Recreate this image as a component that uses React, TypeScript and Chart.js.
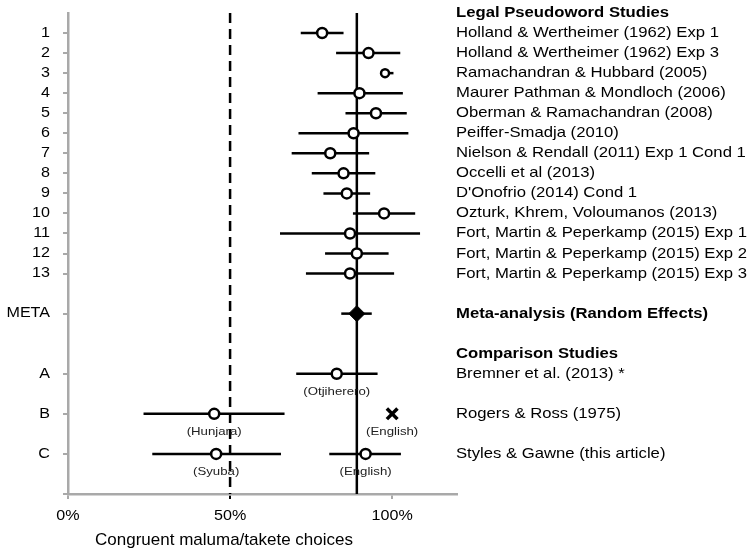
import React, { useEffect, useRef } from "react";
import { Chart, registerables } from "chart.js";

Chart.register(...registerables);

// ---------- DATA ----------
const studyRows = [1, 2, 3, 4, 5, 6, 7, 8, 9, 10, 11, 12, 13];
const studyNames = [
  "Holland & Wertheimer (1962) Exp 1",
  "Holland & Wertheimer (1962) Exp 3",
  "Ramachandran & Hubbard (2005)",
  "Maurer Pathman & Mondloch (2006)",
  "Oberman & Ramachandran (2008)",
  "Peiffer-Smadja (2010)",
  "Nielson & Rendall (2011) Exp 1 Cond 1",
  "Occelli et al (2013)",
  "D'Onofrio (2014) Cond 1",
  "Ozturk, Khrem, Voloumanos (2013)",
  "Fort, Martin & Peperkamp (2015) Exp 1",
  "Fort, Martin & Peperkamp (2015) Exp 2",
  "Fort, Martin & Peperkamp (2015) Exp 3",
];
const studyEstimates = [0.784, 0.927, 0.978, 0.899, 0.95, 0.881, 0.809, 0.85, 0.86, 0.975, 0.87, 0.891, 0.87];
const studyLower = [0.718, 0.827, 0.965, 0.77, 0.856, 0.711, 0.69, 0.752, 0.788, 0.879, 0.654, 0.793, 0.734];
const studyUpper = [0.85, 1.025, 1.004, 1.033, 1.045, 1.05, 0.929, 0.948, 0.932, 1.071, 1.086, 0.989, 1.006];

const metaRow = 15;
const metaName = "Meta-analysis (Random Effects)";
const metaEstimate = 0.891;
const metaLower = 0.843;
const metaUpper = 0.937;

const chanceLevel = 0.5;

const headingRows = [0, 17];
const headingNames = ["Legal Pseudoword Studies", "Comparison Studies"];

const comparisonRows = [18, 20, 22];
const comparisonNames = ["Bremner et al. (2013) *", "Rogers & Ross (1975)", "Styles & Gawne (this article)"];

const compCircleRows = [18, 20, 22, 22];
const compCircleLanguages = ["(Otjiherero)", "(Hunjara)", "(Syuba)", "(English)"];
const compCircleEstimates = [0.829, 0.451, 0.457, 0.918];
const compCircleLower = [0.704, 0.233, 0.26, 0.806];
const compCircleUpper = [0.955, 0.668, 0.657, 1.027];

const compCrossRows = [20];
const compCrossLanguages = ["(English)"];
const compCrossEstimates = [1.0];

const yTickValues = [1, 2, 3, 4, 5, 6, 7, 8, 9, 10, 11, 12, 13, 15, 18, 20, 22];
const yTickLabels = ["1", "2", "3", "4", "5", "6", "7", "8", "9", "10", "11", "12", "13", "META", "A", "B", "C"];
const xTickValues = [0, 0.5, 1];
const xTickLabels = ["0%", "50%", "100%"];
const xAxisTitle = "Congruent maluma/takete choices";

const X_MIN = 0;
const X_MAX = 1.2;
const Y_MIN = 0;
const Y_MAX = 24;

// ---------- STYLE ----------
const FONT = '"Liberation Sans", Arial, Helvetica, sans-serif';
const AXIS_GREY = "#a9a9a9";
const TEXT_STRETCH = 1.15;

function drawText(
  ctx: CanvasRenderingContext2D,
  text: string,
  x: number,
  y: number,
  size: number,
  weight: string,
  align: CanvasTextAlign,
  stretch: number,
  color = "#000"
) {
  ctx.save();
  ctx.translate(x, y);
  ctx.scale(stretch, 1);
  ctx.font = `${weight} ${size}px ${FONT}`;
  ctx.fillStyle = color;
  ctx.textAlign = align;
  ctx.textBaseline = "middle";
  ctx.fillText(text, 0, 0);
  ctx.restore();
}

const textPlugin = {
  id: "forestText",
  afterDraw(chart: any) {
    const { ctx, chartArea } = chart;
    const xs = chart.scales.x;
    const ys = chart.scales.y;
    // y tick labels
    yTickValues.forEach((v, i) => {
      drawText(ctx, yTickLabels[i], chartArea.left - 18, ys.getPixelForValue(v), 14, "normal", "right", TEXT_STRETCH);
    });
    // x tick labels
    xTickValues.forEach((v, i) => {
      drawText(ctx, xTickLabels[i], xs.getPixelForValue(v), chartArea.bottom + 22, 14, "normal", "center", TEXT_STRETCH);
    });
    // x title
    drawText(ctx, xAxisTitle, 224, chartArea.bottom + 46, 17, "normal", "center", 1.0);
    // right-hand labels
    const rx = chartArea.right - 1;
    headingRows.forEach((r, i) => drawText(ctx, headingNames[i], rx, ys.getPixelForValue(r), 14.5, "bold", "left", TEXT_STRETCH));
    studyRows.forEach((r, i) => drawText(ctx, studyNames[i], rx, ys.getPixelForValue(r), 14.5, "normal", "left", TEXT_STRETCH));
    drawText(ctx, metaName, rx, ys.getPixelForValue(metaRow), 14.5, "bold", "left", TEXT_STRETCH);
    comparisonRows.forEach((r, i) => drawText(ctx, comparisonNames[i], rx, ys.getPixelForValue(r), 14.5, "normal", "left", TEXT_STRETCH));
    // language labels under the comparison markers
    compCircleRows.forEach((r, i) =>
      drawText(ctx, compCircleLanguages[i], xs.getPixelForValue(compCircleEstimates[i]), ys.getPixelForValue(r) + 18, 11.5, "normal", "center", TEXT_STRETCH, "#222")
    );
    compCrossRows.forEach((r, i) =>
      drawText(ctx, compCrossLanguages[i], xs.getPixelForValue(compCrossEstimates[i]), ys.getPixelForValue(r) + 18, 11.5, "normal", "center", TEXT_STRETCH, "#222")
    );
  },
};

export default function App() {
  const canvasRef = useRef<HTMLCanvasElement | null>(null);

  useEffect(() => {
    if (!canvasRef.current) return;

    const intervals = [
      ...studyRows.map((r, i) => ({ y: r, lo: studyLower[i], hi: studyUpper[i] })),
      { y: metaRow, lo: metaLower, hi: metaUpper },
      ...compCircleRows.map((r, i) => ({ y: r, lo: compCircleLower[i], hi: compCircleUpper[i] })),
    ];

    const lineBase = {
      showLine: true,
      borderColor: "#000",
      borderWidth: 2.5,
      pointRadius: 0,
      pointHoverRadius: 0,
      order: 2,
    };

    const ciDatasets = intervals.map((iv) => ({
      ...lineBase,
      data: [
        { x: iv.lo, y: iv.y },
        { x: iv.hi, y: iv.y },
      ],
    }));

    const refDatasets = [
      {
        ...lineBase,
        borderDash: [10, 6],
        data: [
          { x: chanceLevel, y: Y_MIN },
          { x: chanceLevel, y: Y_MAX },
        ],
      },
      {
        ...lineBase,
        data: [
          { x: metaEstimate, y: Y_MIN },
          { x: metaEstimate, y: Y_MAX },
        ],
      },
    ];

    const markerDatasets = [
      {
        data: studyRows.map((r, i) => ({ x: studyEstimates[i], y: r })),
        pointStyle: "circle",
        pointRadius: (c: any) => (c.dataIndex === 2 ? 4 : 5),
        pointBorderWidth: 2.5,
        pointBackgroundColor: "#fff",
        pointBorderColor: "#000",
        order: 0,
      },
      {
        data: compCircleRows.map((r, i) => ({ x: compCircleEstimates[i], y: r })),
        pointStyle: "circle",
        pointRadius: 5,
        pointBorderWidth: 2.5,
        pointBackgroundColor: "#fff",
        pointBorderColor: "#000",
        order: 0,
      },
      {
        data: [{ x: metaEstimate, y: metaRow }],
        pointStyle: "rectRot",
        pointRadius: 8,
        pointBorderWidth: 1,
        pointBackgroundColor: "#000",
        pointBorderColor: "#000",
        order: 0,
      },
      {
        data: compCrossRows.map((r, i) => ({ x: compCrossEstimates[i], y: r })),
        pointStyle: "crossRot",
        pointRadius: 7.5,
        pointBorderWidth: 3.5,
        pointBackgroundColor: "#000",
        pointBorderColor: "#000",
        order: 0,
      },
    ];

    const chart = new Chart(canvasRef.current, {
      type: "scatter",
      data: { datasets: [...markerDatasets, ...refDatasets, ...ciDatasets] as any },
      options: {
        animation: false,
        responsive: false,
        events: [],
        layout: { padding: { left: 0, right: 293, top: 13, bottom: 0 } },
        plugins: { legend: { display: false }, tooltip: { enabled: false }, title: { display: false } },
        scales: {
          x: {
            type: "linear",
            min: X_MIN,
            max: X_MAX,
            afterBuildTicks: (scale: any) => {
              scale.ticks = xTickValues.map((v) => ({ value: v }));
            },
            afterFit: (scale: any) => {
              scale.height = 56;
            },
            ticks: { display: false },
            grid: {
              display: true,
              drawOnChartArea: false,
              drawTicks: true,
              tickLength: 5,
              lineWidth: 2,
              color: (c: any) => (c.tick && c.tick.value === chanceLevel ? "#000" : AXIS_GREY),
            },
            border: { display: true, color: AXIS_GREY, width: 2.5 },
          },
          y: {
            type: "linear",
            min: Y_MIN,
            max: Y_MAX,
            reverse: true,
            afterBuildTicks: (scale: any) => {
              scale.ticks = [...yTickValues, Y_MAX].map((v) => ({ value: v }));
            },
            afterFit: (scale: any) => {
              scale.width = 68;
            },
            ticks: { display: false },
            grid: {
              display: true,
              drawOnChartArea: false,
              drawTicks: true,
              tickLength: 5,
              lineWidth: 2,
              color: AXIS_GREY,
            },
            border: { display: true, color: AXIS_GREY, width: 2.5 },
          },
        },
      },
      plugins: [textPlugin],
    });

    return () => chart.destroy();
  }, []);

  return (
    <div style={{ position: "fixed", left: 0, top: 0, width: 750, height: 550, background: "#fff" }}>
      <canvas ref={canvasRef} width={750} height={550} style={{ display: "block" }} />
    </div>
  );
}
